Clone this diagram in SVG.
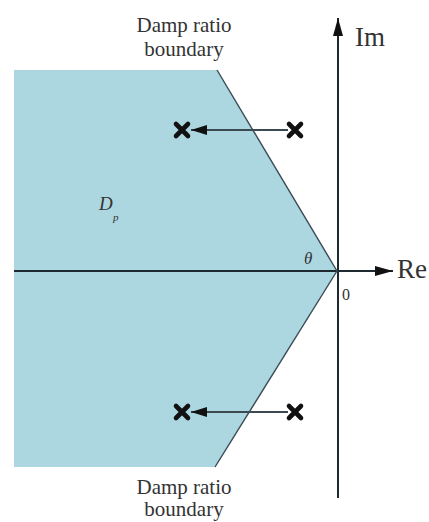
<svg xmlns="http://www.w3.org/2000/svg" width="429" height="522" viewBox="0 0 429 522">
<style>
.lbl{font-family:"Liberation Serif","Times New Roman",serif;fill:#333;}
.ax{stroke:#1e2a30;stroke-width:2;fill:none;}
.bd{stroke:#3a4a55;stroke-width:1.4;fill:none;}
.pole{stroke:#111;stroke-width:4.6;stroke-linecap:round;}
.mv{stroke:#3a4a50;stroke-width:2;fill:none;}
</style>
<defs>
<marker id="ah" markerWidth="18" markerHeight="10" refX="18" refY="5" orient="auto" markerUnits="userSpaceOnUse">
<path d="M0,0 L18,5 L0,10 Z" fill="#111"/>
</marker>
<marker id="ahs" markerWidth="16" markerHeight="10" refX="16" refY="5" orient="auto" markerUnits="userSpaceOnUse">
<path d="M0,0 L16,5 L0,10 Z" fill="#111"/>
</marker>
</defs>
<g id="region">
<polygon points="14,70 217,70 337,271 215,467 14,467" fill="#acd7e1"/>
<text class="lbl" x="99" y="210" font-size="19" font-style="italic" fill="#1d3548">D</text>
<text class="lbl" x="113" y="221" font-size="11" font-style="italic" fill="#1d3548">p</text>
<text class="lbl" x="304" y="264" font-size="17" font-style="italic" fill="#1d3548">θ</text>
</g>
<g id="connectors">
<line class="ax" x1="14" y1="271" x2="393" y2="271" marker-end="url(#ah)"/>
<line class="ax" x1="338" y1="498" x2="338" y2="18" marker-end="url(#ah)"/>
<line class="bd" x1="217" y1="70" x2="337" y2="271"/>
<line class="bd" x1="337" y1="271" x2="215" y2="467"/>
<line class="mv" x1="288" y1="130" x2="191" y2="130" marker-end="url(#ahs)"/>
<line class="mv" x1="288" y1="412" x2="191" y2="412" marker-end="url(#ahs)"/>
</g>
<g id="poles">
<g id="pole-top-left"><path class="pole" d="M176,124 L188,136 M188,124 L176,136"/></g>
<g id="pole-top-right"><path class="pole" d="M289,124 L301,136 M301,124 L289,136"/></g>
<g id="pole-bottom-left"><path class="pole" d="M176,406 L188,418 M188,406 L176,418"/></g>
<g id="pole-bottom-right"><path class="pole" d="M289,406 L301,418 M301,406 L289,418"/></g>
</g>
<g id="labels">
<text class="lbl" x="355" y="46" font-size="27">Im</text>
<text class="lbl" x="397" y="278" font-size="27">Re</text>
<text class="lbl" x="342" y="300" font-size="16">0</text>
<text class="lbl" x="184" y="32" font-size="21" text-anchor="middle">Damp ratio</text>
<text class="lbl" x="184" y="56" font-size="21" text-anchor="middle">boundary</text>
<text class="lbl" x="184" y="494" font-size="21" text-anchor="middle">Damp ratio</text>
<text class="lbl" x="184" y="516" font-size="21" text-anchor="middle">boundary</text>
</g>
</svg>
